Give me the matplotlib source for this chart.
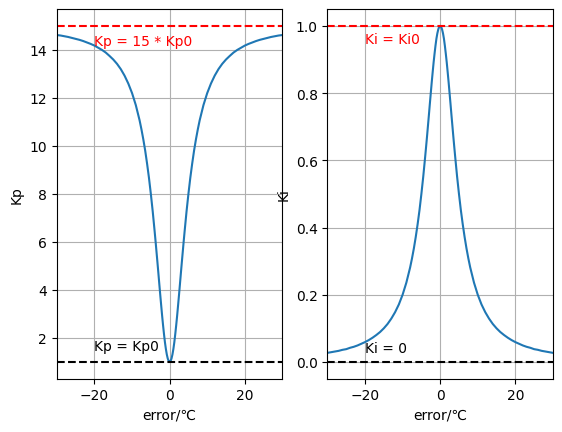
import matplotlib
matplotlib.use('Agg')
import matplotlib.pyplot as plt

# error (deg C) for the right half of each curve;
# both curves are mirror images about error = 0
err_half = [0, 0.25, 0.5, 0.75, 1, 1.25, 1.5, 1.75, 2, 2.25, 2.5, 2.75, 3, 3.25, 3.5, 3.75, 4, 4.5,
            5, 5.5, 6, 6.5, 7, 7.5, 8, 9, 10, 11, 12, 13, 14, 15, 16, 17, 18, 19, 20,
            21, 22, 23, 24, 25, 26, 27, 28, 29, 30]
kp_half = [1.0, 1.035, 1.14, 1.31, 1.54, 1.82, 2.16, 2.53, 2.93, 3.36, 3.8, 4.25, 4.71, 5.16, 5.6,
           6.04, 6.46, 7.27, 8.0, 8.67, 9.26, 9.8, 10.27, 10.69, 11.07, 11.7, 12.2, 12.6, 12.93,
           13.2, 13.42, 13.6, 13.75, 13.89, 14.0, 14.09, 14.18, 14.25, 14.31, 14.37, 14.42,
           14.46, 14.5, 14.54, 14.57, 14.6, 14.62]
ki_half = [1.0, 0.9975, 0.99, 0.978, 0.962, 0.941, 0.917, 0.891, 0.862, 0.832, 0.8, 0.768, 0.735,
           0.703, 0.671, 0.64, 0.61, 0.552, 0.5, 0.452, 0.41, 0.372, 0.338, 0.308, 0.281, 0.236,
           0.2, 0.171, 0.148, 0.129, 0.113, 0.1, 0.089, 0.08, 0.072, 0.065, 0.059, 0.054, 0.049,
           0.045, 0.042, 0.038, 0.036, 0.033, 0.031, 0.029, 0.027]

err = [-e for e in err_half[:0:-1]] + err_half
kp = kp_half[:0:-1] + kp_half
ki = ki_half[:0:-1] + ki_half

plt.figure(figsize=(6.4, 4.8))

plt.subplot(1, 2, 1)
plt.plot(err, kp)
plt.axhline(15, color='r', linestyle='--')
plt.axhline(1, color='k', linestyle='--')
plt.text(-20, 14.2, 'Kp = 15 * Kp0', color='r')
plt.text(-20, 1.5, 'Kp = Kp0', color='k')
plt.xlim(-30, 30)
plt.ylim(0.3, 15.7)
plt.xlabel('error/℃')
plt.ylabel('Kp')
plt.grid()

plt.subplot(1, 2, 2)
plt.plot(err, ki)
plt.axhline(1, color='r', linestyle='--')
plt.axhline(0, color='k', linestyle='--')
plt.text(-20, 0.95, 'Ki = Ki0', color='r')
plt.text(-20, 0.03, 'Ki = 0', color='k')
plt.xlim(-30, 30)
plt.ylim(-0.05, 1.05)
plt.xlabel('error/℃')
plt.ylabel('Ki')
plt.grid()

plt.savefig('out.png', bbox_inches='tight')
